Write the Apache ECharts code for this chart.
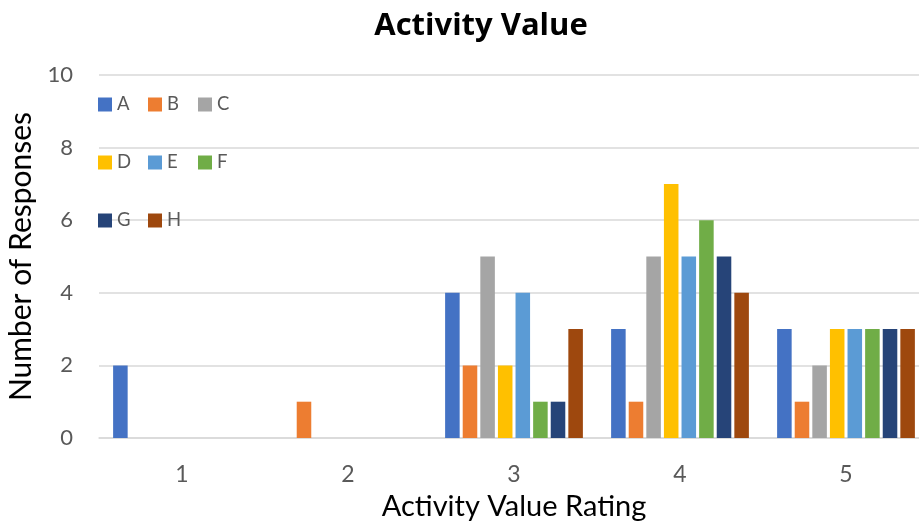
<!DOCTYPE html>
<html>
<head>
<meta charset="utf-8">
<script src="https://cdn.jsdelivr.net/npm/echarts@6/dist/echarts.min.js"></script>
<style>
  html, body { margin: 0; padding: 0; background: #fff; }
  #chart { width: 919px; height: 523px; }
</style>
</head>
<body>
<div id="chart"></div>
<script>
// Ratings on the horizontal axis
const categories = ['1', '2', '3', '4', '5'];

// Responses per rating, one array per group
const seriesA = [2, 0, 4, 3, 3];
const seriesB = [0, 1, 2, 1, 1];
const seriesC = [0, 0, 5, 5, 2];
const seriesD = [0, 0, 2, 7, 3];
const seriesE = [0, 0, 4, 5, 3];
const seriesF = [0, 0, 1, 6, 3];
const seriesG = [0, 0, 1, 5, 3];
const seriesH = [0, 0, 3, 4, 3];

const seriesNames = ['A', 'B', 'C', 'D', 'E', 'F', 'G', 'H'];
const seriesValues = [seriesA, seriesB, seriesC, seriesD, seriesE, seriesF, seriesG, seriesH];
const colors = ['#4472C4', '#ED7D31', '#A5A5A5', '#FFC000', '#5B9BD5', '#70AD47', '#264478', '#9E480E'];

const FONT = 'Lato, "Noto Sans", sans-serif';
const TITLE_FONT = '"Open Sans", Lato, sans-serif';

// One legend row, three items per row, packed against the plot's left edge
const legendRow = (names, top) => ({
  data: names,
  left: 98,
  top: top,
  padding: 0,
  orient: 'horizontal',
  icon: 'rect',
  itemWidth: 14,
  itemHeight: 14,
  itemGap: 7,
  selectedMode: false,
  textStyle: { fontFamily: FONT, fontSize: 18.5, color: '#595959', width: 24, lineHeight: 14 }
});

const chart = echarts.init(document.getElementById('chart'));
chart.setOption({
  backgroundColor: '#fff',
  color: colors,
  animation: false,
  title: {
    text: 'Activity Value',
    left: 476,
    top: 6,
    textAlign: 'center',
    textStyle: { fontFamily: TITLE_FONT, fontSize: 31, fontWeight: 'bold', color: '#000' }
  },
  legend: [
    legendRow(['A', 'B', 'C'], 95),
    legendRow(['D', 'E', 'F'], 153),
    legendRow(['G', 'H'], 211)
  ],
  // the last category runs a little past the right edge of the canvas
  grid: { left: 99, right: -10, top: 75, bottom: 85, containLabel: false, outerBoundsMode: 'none' },
  xAxis: {
    type: 'category',
    data: categories,
    axisTick: { show: false },
    axisLine: { lineStyle: { color: '#d9d9d9', width: 1.5 } },
    axisLabel: { fontFamily: FONT, fontSize: 23, color: '#595959', margin: 25 },
    name: 'Activity Value Rating',
    nameLocation: 'middle',
    nameGap: 54,
    nameTextStyle: { fontFamily: FONT, fontSize: 29, color: '#000' }
  },
  yAxis: {
    type: 'value',
    min: 0,
    max: 10,
    interval: 2,
    axisLine: { show: false },
    axisTick: { show: false },
    splitLine: { lineStyle: { color: '#d9d9d9', width: 1.5 } },
    axisLabel: { fontFamily: FONT, fontSize: 22, color: '#595959', margin: 26 },
    name: 'Number of Responses',
    nameLocation: 'middle',
    nameGap: 59,
    nameTextStyle: { fontFamily: FONT, fontSize: 30, color: '#000' }
  },
  series: seriesNames.map((name, i) => ({
    name: name,
    type: 'bar',
    data: seriesValues[i],
    barGap: '21%',
    barCategoryGap: '17%'
  }))
});
</script>
</body>
</html>
